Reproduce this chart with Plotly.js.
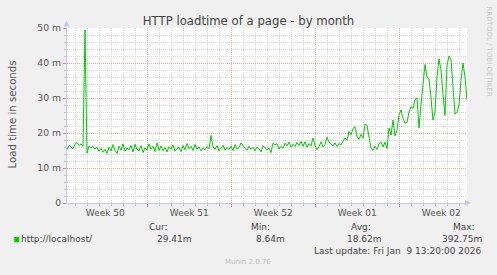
<!DOCTYPE html>
<html><head><meta charset="utf-8">
<script src="https://cdn.plot.ly/plotly-3.0.1.min.js"></script>
<style>html,body{margin:0;padding:0;background:#f0f0f0;}#chart{width:497px;height:275px;}</style>
</head><body><div id="chart"></div>
<script>
// ---- data ----
const seriesStartUTC = [2025, 11, 8, 7, 20]; // Dec 8 2025 07:20
const stepHours = 4;
const loadTimeMs = [
 15.2,16.5,16.0,15.5,16.8,17.3,16.4,16.9,16.2,49.4,
 14.2,16.3,15.8,16.1,15.4,15.9,14.8,15.6,14.5,15.3,
 14.2,15.9,14.9,16.7,15.0,14.1,16.2,15.1,16.9,14.8,
 15.7,15.2,16.5,14.6,16.8,15.3,14.9,16.4,14.4,15.8,
 15.1,16.9,15.4,16.2,14.7,17.2,15.0,16.3,14.9,15.8,
 14.6,16.1,15.3,16.6,14.8,15.6,15.9,14.7,16.4,15.2,
 17.0,15.5,16.2,15.0,16.7,15.4,16.0,14.9,15.7,15.2,
 16.1,15.5,19.3,16.0,15.3,16.4,14.9,15.8,16.5,15.1,
 15.9,15.3,16.2,15.0,16.7,15.4,15.8,17.2,16.3,15.6,
 15.1,16.2,15.3,15.9,14.9,16.0,15.5,14.6,16.4,15.8,
 15.2,15.7,14.4,17.1,16.6,17.0,15.4,16.2,15.6,17.1,
 16.3,17.4,16.0,16.8,16.1,17.3,16.4,17.6,16.2,17.5,
 15.9,17.0,16.3,18.6,16.4,15.2,16.1,17.5,16.0,16.7,
 18.8,17.4,16.8,16.3,17.2,16.1,17.0,16.6,17.6,18.6,
 17.9,20.5,19.5,21.3,21.8,19.0,18.2,19.6,18.5,22.5,
 22.2,19.0,15.6,15.1,16.2,15.3,16.9,17.5,16.0,17.4,
 15.6,21.4,19.4,23.7,19.2,20.8,25.1,26.6,24.2,22.8,
 23.0,26.0,27.5,27.0,29.5,30.0,21.4,28.0,33.0,39.6,
 36.0,35.5,30.0,23.7,26.0,36.0,41.2,38.0,31.0,25.0,
 39.4,42.0,40.9,32.9,25.5,25.8,28.0,35.0,40.0,36.0,
 29.4
];
const weekStarts = ['2025-12-08','2025-12-15','2025-12-22','2025-12-29','2026-01-05'];
const weekLabels = ['Week 50','Week 51','Week 52','Week 01','Week 02'];
const yTickVals = [0, 10, 20, 30, 40, 50];
const yTickText = ['0', '10 m', '20 m', '30 m', '40 m', '50 m'];
const seriesName = 'http://localhost/';
const statHeaders = ['Cur:', 'Min:', 'Avg:', 'Max:'];
const statValues = ['29.41m', '8.64m', '18.62m', '392.75m'];
const lastUpdate = 'Last update: Fri Jan\u00a0 9 13:20:00 2026';
const titleText = 'HTTP loadtime of a page - by month';
const yTitle = 'Load time in seconds';
const rrdCredit = 'RRDTOOL / TOBI OETIKER';
const muninVersion = 'Munin 2.0.76';

// ---- build ----
const DAY = 86400000, HOUR = 3600000;
const t0 = Date.UTC.apply(null, seriesStartUTC);
const fmt = ms => new Date(ms).toISOString().replace('T', ' ').slice(0, 19);
const times = loadTimeMs.map((_, i) => fmt(t0 + i * stepHours * HOUR));
const xRange = [fmt(t0), fmt(t0 + (loadTimeMs.length - 1) * stepHours * HOUR)];
const weekCenters = weekStarts.map(d => fmt(Date.parse(d + 'T00:00:00Z') + 3.5 * DAY));

const W = 497, H = 275, L = 67, R = 30, T = 28, B = 72;
const pw = W - L - R, ph = H - T - B;
const px = x => (x - L) / pw;
const py = y => (H - B - y) / ph;

const green = '#00cc00';
const majorGrid = '#eba9a9';
const minorGrid = '#d8d8d8';
const axisBlue = '#c6c6ee';
const txt = '#555555';

const traces = [
  {type: 'scatter', mode: 'lines', x: times, y: loadTimeMs, name: seriesName,
   line: {color: green, width: 1}, hoverinfo: 'skip'},
  {type: 'scatter', mode: 'lines', x: [], y: [], xaxis: 'x2', yaxis: 'y', hoverinfo: 'skip'}
];

const annotations = [];
const ann = (o) => annotations.push(Object.assign({xref: 'paper', yref: 'paper', showarrow: false,
  font: {family: 'DejaVu Sans', size: 9, color: '#444'}}, o));

ann({text: yTitle, x: px(11.5), y: py(114), textangle: -90, xanchor: 'center', yanchor: 'middle',
     font: {family: 'DejaVu Sans', size: 10.2, color: txt}});
ann({text: rrdCredit, x: px(488.5), y: py(51), textangle: 90, xanchor: 'center', yanchor: 'middle',
     font: {family: 'DejaVu Sans', size: 7, color: '#c8c8c8'}});
const headerRight = [168.7, 271, 372.3, 476];
const valueRight = [192.7, 286, 383.3, 482.7];
statHeaders.forEach((h, i) => ann({text: h, x: px(headerRight[i] + 1), y: py(226.7), xanchor: 'right', yanchor: 'middle'}));
statValues.forEach((v, i) => ann({text: v, x: px(valueRight[i] + 1), y: py(239), xanchor: 'right', yanchor: 'middle'}));
ann({text: seriesName, x: px(18.5), y: py(239), xanchor: 'left', yanchor: 'middle'});
ann({text: lastUpdate, x: px(483.3), y: py(251), xanchor: 'right', yanchor: 'middle'});
ann({text: muninVersion, x: px(248), y: py(262.3), xanchor: 'center', yanchor: 'middle',
     font: {family: 'DejaVu Sans', size: 7, color: '#bdbdbd'}});
// axis arrows
annotations.push({xref: 'paper', yref: 'paper', x: px(66.5), y: py(20.5), ax: 0, ay: 9, text: ' ',
  showarrow: true, arrowhead: 2, arrowsize: 1.2, arrowwidth: 1, arrowcolor: axisBlue, standoff: 0});
annotations.push({xref: 'paper', yref: 'paper', x: px(471), y: py(203), ax: -9, ay: 0, text: ' ',
  showarrow: true, arrowhead: 2, arrowsize: 1.2, arrowwidth: 1, arrowcolor: axisBlue, standoff: 0});

const shapes = [
  {type: 'rect', xref: 'paper', yref: 'paper', x0: px(14.3), x1: px(19.3), y0: py(242.3), y1: py(237),
   fillcolor: green, line: {width: 0}}
];

const layout = {
  width: W, height: H,
  margin: {l: L, r: R, t: T, b: B, pad: 0},
  paper_bgcolor: '#f0f0f0', plot_bgcolor: '#ffffff',
  font: {family: 'DejaVu Sans', size: 9, color: txt},
  showlegend: false,
  title: {text: titleText, x: 0.5, xref: 'container', xanchor: 'center',
          y: 1 - 21 / H, yref: 'container', yanchor: 'middle',
          font: {family: 'DejaVu Sans', size: 11.7, color: '#444'}},
  xaxis: {type: 'date', range: xRange, tickmode: 'linear', tick0: weekStarts[0], dtick: 7 * DAY,
          showticklabels: false, ticks: 'outside', ticklen: 3, tickcolor: '#e08080', tickwidth: 1,
          showgrid: true, gridcolor: majorGrid, griddash: '1px,1px', gridwidth: 1,
          showline: true, linecolor: axisBlue, linewidth: 1, zeroline: false, fixedrange: true,
          minor: {tickmode: 'linear', tick0: weekStarts[0], dtick: DAY, showgrid: true,
                  gridcolor: minorGrid, griddash: '1px,1px', gridwidth: 1,
                  ticks: 'outside', ticklen: 2, tickcolor: '#c0c0c0', tickwidth: 1}},
  xaxis2: {type: 'date', range: xRange, overlaying: 'x', anchor: 'y', side: 'bottom',
           tickmode: 'array', tickvals: weekCenters, ticktext: weekLabels, ticks: '',
           showgrid: false, showline: false, zeroline: false, fixedrange: true,
           tickfont: {family: 'DejaVu Sans', size: 9, color: txt}, ticklabelstandoff: 3},
  yaxis: {range: [0, 50], tickmode: 'array', tickvals: yTickVals, ticktext: yTickText,
          ticks: 'outside', ticklen: 3, tickcolor: '#e08080', tickwidth: 1,
          showgrid: true, gridcolor: majorGrid, griddash: '1px,1px', gridwidth: 1,
          showline: true, linecolor: axisBlue, linewidth: 1, zeroline: false, fixedrange: true,
          tickfont: {family: 'DejaVu Sans', size: 9.3, color: txt},
          minor: {tickmode: 'linear', tick0: 0, dtick: 2, showgrid: true, gridcolor: minorGrid,
                  griddash: '1px,1px', gridwidth: 1, ticks: 'outside', ticklen: 2, tickcolor: '#c0c0c0'}},
  annotations: annotations,
  shapes: shapes
};

Plotly.newPlot('chart', traces, layout, {staticPlot: true, displayModeBar: false});
</script>
</body></html>
